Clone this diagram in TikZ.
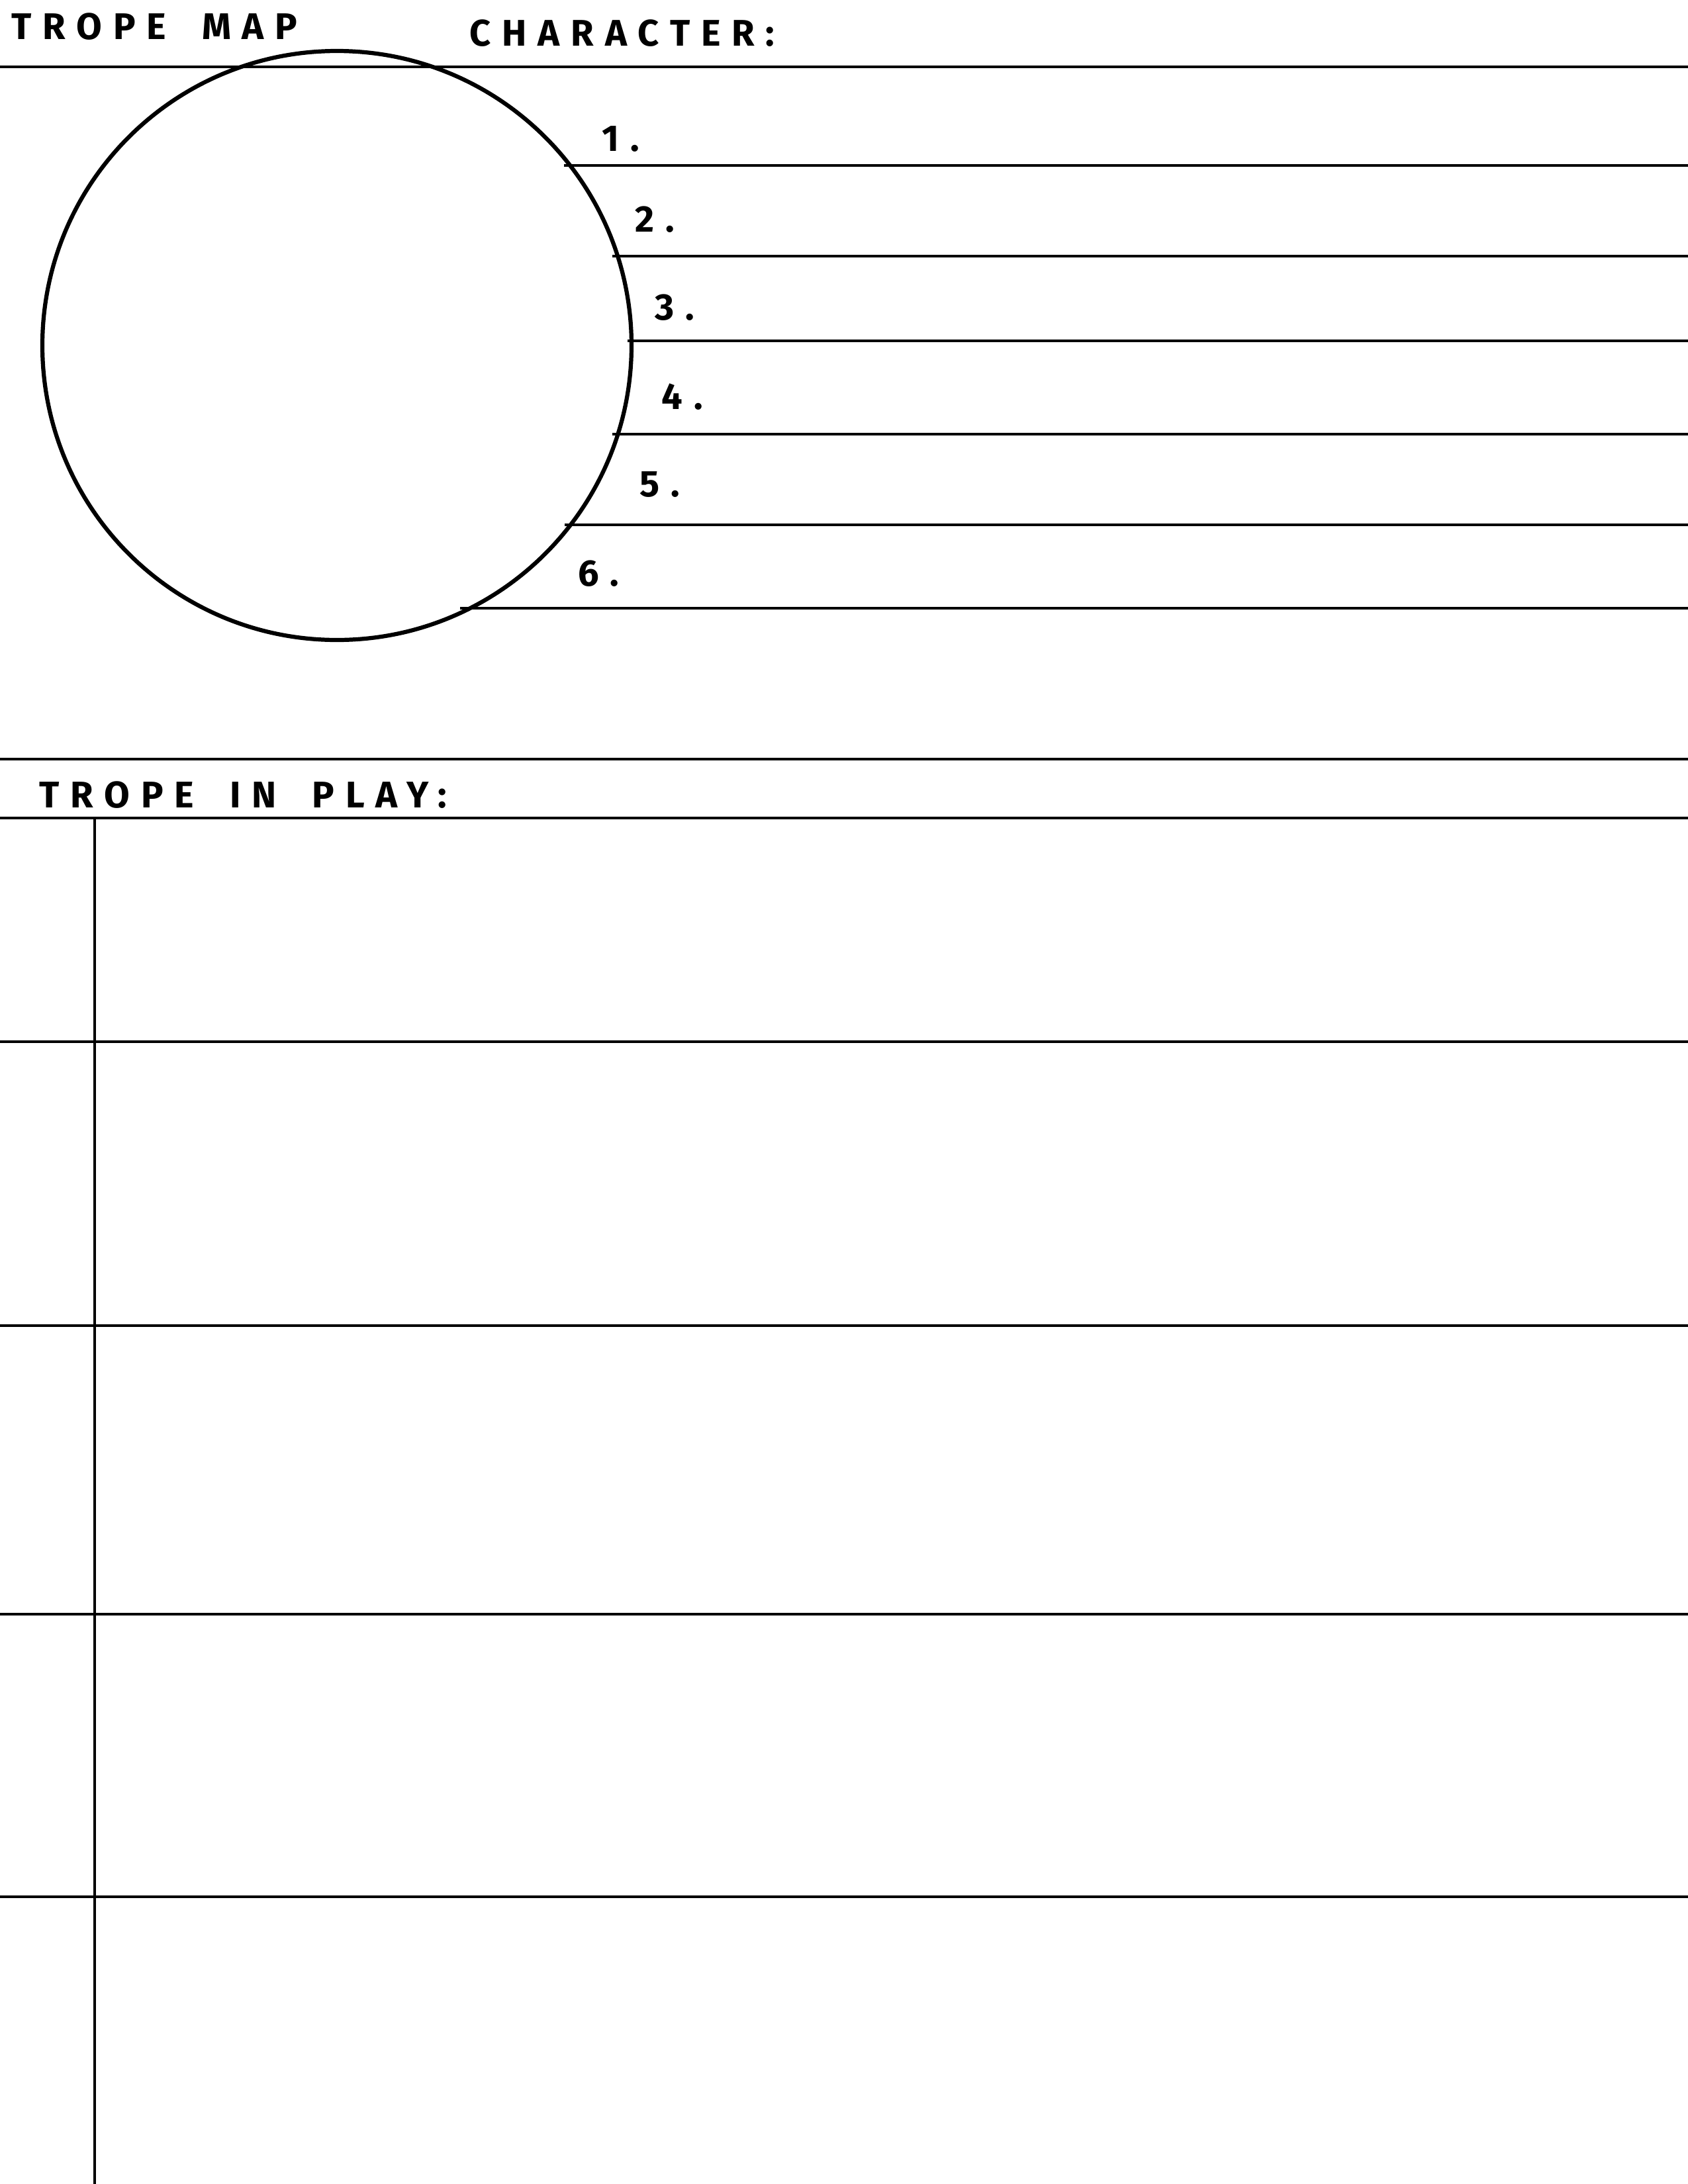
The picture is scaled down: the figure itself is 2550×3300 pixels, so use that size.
\documentclass[tikz,border=0pt]{standalone}
\usepackage{fontspec}
\newfontfamily\handfont[LetterSpace=30, WordSpace=1.8]{Fira Sans}
\begin{document}
\begin{tikzpicture}[x=0.2409pt, y=-0.2409pt,
    rule/.style={line width=1pt},
    head/.style={font=\handfont\bfseries\fontsize{13.5}{13.5}\selectfont, inner sep=0pt, anchor=base west},
    num/.style={font=\handfont\bfseries\fontsize{13.5}{13.5}\selectfont, inner sep=0pt, anchor=west}]
    \useasboundingbox (0,0) rectangle (2550,3300);

    % header
    \node[head] (title) at (17,59) {TROPE MAP};
    \node[head] (character) at (709,69) {CHARACTER:};
    \draw[rule] (0,101) -- (2550,101);

    % the map circle
    \draw[line width=1.5pt] (509,522) circle[radius=445];

    % numbered rows beside the circle
    \foreach \y/\x/\n/\lx/\ly in {250/852/1/909/210, 387/925/2/959/332, 515/948/3/989/465,
                                  656/925/4/999/600, 793/853/5/966/732, 919/695/6/873/867}{
        \coordinate (row\n) at (\x,\y);
        \coordinate (end\n) at (2550,\y);
        \draw[rule] (row\n) -- (end\n);
        \node[num] (n\n) at (\lx,\ly) {\n.};
    }

    % trope in play
    \draw[rule] (0,1147) -- (2550,1147);
    \node[head] (inplay) at (59,1220) {TROPE IN PLAY:};
    \draw[rule] (0,1236) -- (2550,1236);
    \coordinate (coltop) at (143,1236);
    \coordinate (colbot) at (143,3300);
    \draw[rule] (coltop) -- (colbot);
    \foreach \y in {1574,2003,2439,2866}
        \draw[rule] (0,\y) -- (2550,\y);

\end{tikzpicture}
\end{document}
